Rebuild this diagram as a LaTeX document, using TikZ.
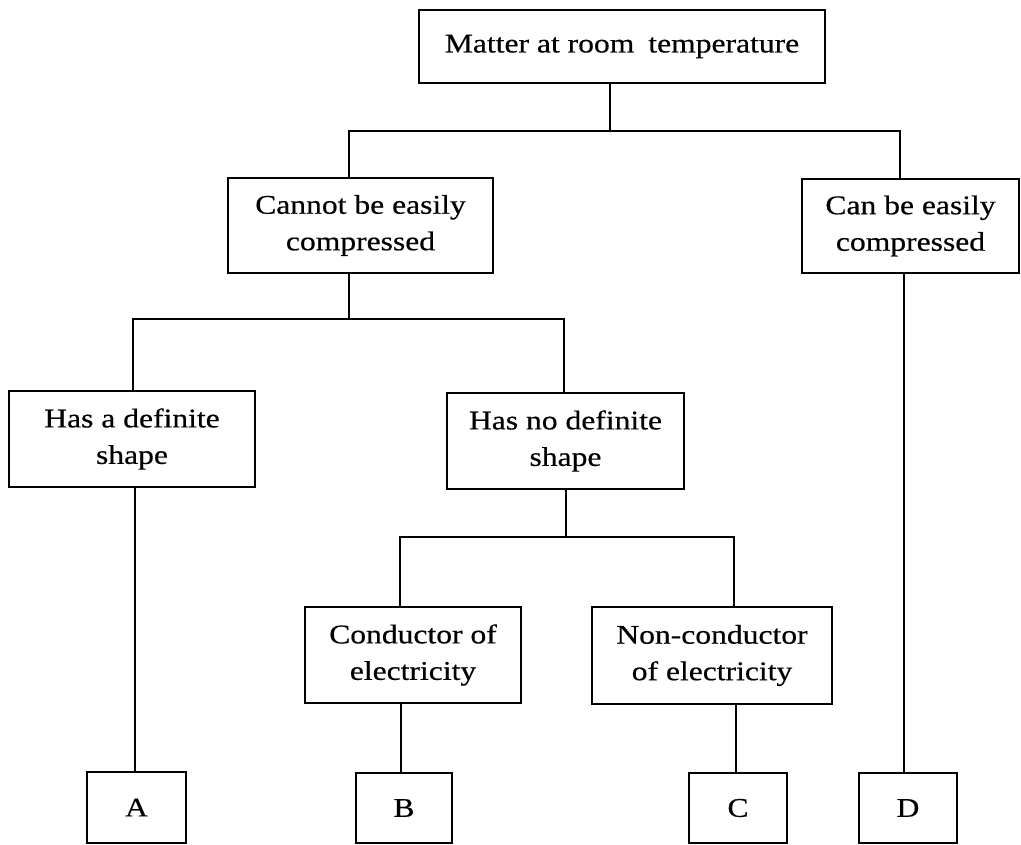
\documentclass[tikz,border=0pt]{standalone}
\usepackage{fontspec}
\setmainfont{Liberation Serif}[FakeStretch=1.17,FakeBold=0.5]
\begin{document}
\begin{tikzpicture}[x=1pt,y=-1pt,
  box/.style={draw=black, line width=1.5pt, inner sep=0pt, align=center,
    font=\fontsize{27}{36.5}\selectfont},
  link/.style={draw=black, line width=1.4pt}]
\useasboundingbox (0,0) rectangle (1021,845);
% boxes
\node[box, minimum width=406, minimum height=73] (top) at (622,46.5) {Matter at room\hspace{14pt}temperature};
\node[box, minimum width=265, minimum height=95] (cannot) at (360.5,225.5) {Cannot be easily\\compressed};
\node[box, minimum width=217, minimum height=94] (can) at (910.5,226) {Can be easily\\compressed};
\node[box, minimum width=246, minimum height=96] (hasdef) at (132,439) {Has a definite\\shape};
\node[box, minimum width=237, minimum height=96] (hasno) at (565.5,441) {Has no definite\\shape};
\node[box, minimum width=216, minimum height=96] (cond) at (413,655) {Conductor of\\electricity};
\node[box, minimum width=240, minimum height=97] (noncond) at (712,655.5) {Non-conductor\\of electricity};
\node[box, minimum width=99, minimum height=71] (A) at (136.5,807.5) {A};
\node[box, minimum width=96, minimum height=70] (B) at (404,808) {B};
\node[box, minimum width=98, minimum height=70] (C) at (738,808) {C};
\node[box, minimum width=98, minimum height=70] (D) at (908,808) {D};
% junctions
\coordinate (j1) at (610,131);
\coordinate (j2) at (349,319);
\coordinate (j3) at (566,537);
% connectors
\draw[link] (top.south -| j1) -- (j1);
\draw[link] ([xshift=-11.5pt]cannot.north) |- (j1) -| ([xshift=-10.5pt]can.north);
\draw[link] (cannot.south -| j2) -- (j2);
\draw[link] ([xshift=1pt]hasdef.north) |- (j2) -| ([xshift=-1.5pt]hasno.north);
\draw[link] (hasno.south -| j3) -- (j3);
\draw[link] ([xshift=-13pt]cond.north) |- (j3) -| ([xshift=22pt]noncond.north);
\draw[link] ([xshift=-1.5pt]A.north) -- ([xshift=-1.5pt]A.north |- hasdef.south);
\draw[link] ([xshift=-3pt]B.north) -- ([xshift=-3pt]B.north |- cond.south);
\draw[link] ([xshift=-2pt]C.north) -- ([xshift=-2pt]C.north |- noncond.south);
\draw[link] ([xshift=-4pt]D.north) -- ([xshift=-4pt]D.north |- can.south);
\end{tikzpicture}
\end{document}
